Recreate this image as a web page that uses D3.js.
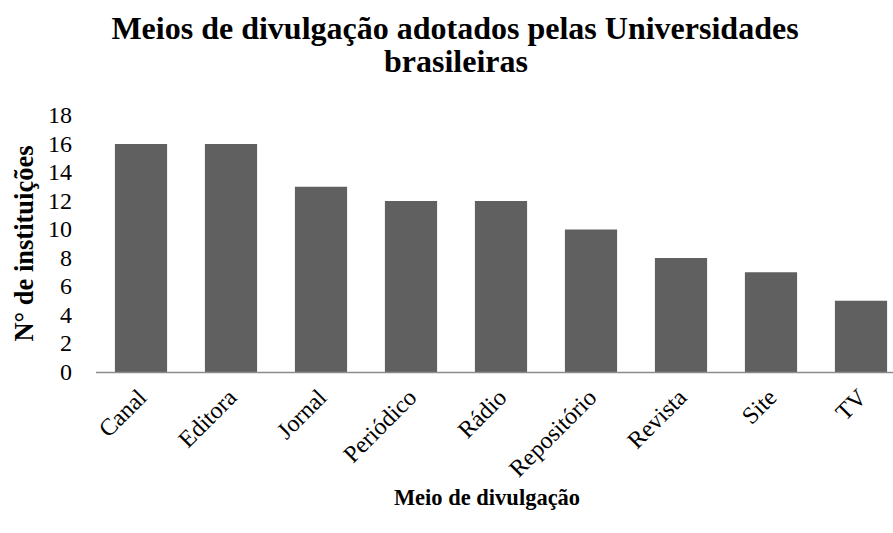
<!DOCTYPE html>
<html>
<head>
<meta charset="utf-8">
<script src="https://cdn.jsdelivr.net/npm/d3@7"></script>
<style>
  body { margin: 0; background: #fff; }
  text { font-family: "Liberation Serif", "Times New Roman", serif; fill: #000; }
</style>
</head>
<body>
<svg></svg>
<script>
const categories = ["Canal", "Editora", "Jornal", "Periódico", "Rádio", "Repositório", "Revista", "Site", "TV"];
const values = [16, 16, 13, 12, 12, 10, 8, 7, 5];
const yTicks = [0, 2, 4, 6, 8, 10, 12, 14, 16, 18];

const svgWidth = 893;
const svgHeight = 533;

const svg = d3.select("svg")
    .attr("width", svgWidth)
    .attr("height", svgHeight);

// Scales
const xScale = d3.scaleBand()
    .domain(categories)
    .range([96, 906])
    .paddingInner(0.42)
    .paddingOuter(0.21);

const yScale = d3.scaleLinear()
    .domain([0, 18])
    .range([372, 115.5]);

// Bars
svg.selectAll(".bar")
    .data(values)
    .enter()
    .append("rect")
    .attr("class", "bar")
    .attr("x", (d, i) => xScale(categories[i]))
    .attr("y", d => yScale(d))
    .attr("width", xScale.bandwidth())
    .attr("height", d => yScale(0) - yScale(d))
    .attr("fill", "#606060");

// x axis line
svg.append("line")
    .attr("x1", 96).attr("x2", 906)
    .attr("y1", yScale(0) + 0.5).attr("y2", yScale(0) + 0.5)
    .attr("stroke", "#8c8c8c")
    .attr("stroke-width", 1.5);

// y axis labels
const yAxis = svg.append("g")
    .attr("transform", "translate(80,0)")
    .call(d3.axisLeft(yScale).tickValues(yTicks).tickSize(0).tickPadding(8));
yAxis.select(".domain").remove();
yAxis.selectAll("text")
    .style("font-family", "'Liberation Serif', 'Times New Roman', serif")
    .style("font-size", "24px")
    .attr("fill", "#000")
    .attr("dy", "0.3em");

// x axis labels
const xAxis = svg.append("g")
    .attr("transform", `translate(0,${yScale(0)})`)
    .call(d3.axisBottom(xScale).tickSize(0).tickPadding(0));
xAxis.select(".domain").remove();
xAxis.selectAll("text")
    .style("font-family", "'Liberation Serif', 'Times New Roman', serif")
    .style("font-size", "24px")
    .attr("fill", "#000")
    .style("text-anchor", "end")
    .attr("dy", null)
    .attr("y", 0)
    .attr("transform", "translate(7,27) rotate(-45)");

// Title
svg.append("text")
    .attr("x", 455)
    .attr("y", 39)
    .style("text-anchor", "middle")
    .style("font-weight", "bold")
    .style("font-size", "32px")
    .text("Meios de divulgação adotados pelas Universidades");
svg.append("text")
    .attr("x", 456)
    .attr("y", 72)
    .style("text-anchor", "middle")
    .style("font-weight", "bold")
    .style("font-size", "32px")
    .text("brasileiras");

// y axis title
svg.append("text")
    .attr("transform", "rotate(-90)")
    .attr("x", -243.5)
    .attr("y", 33)
    .style("text-anchor", "middle")
    .style("font-weight", "bold")
    .style("font-size", "26.5px")
    .text("N° de instituições");

// x axis title
svg.append("text")
    .attr("x", 487)
    .attr("y", 505)
    .style("text-anchor", "middle")
    .style("font-weight", "bold")
    .style("font-size", "22.5px")
    .text("Meio de divulgação");
</script>
</body>
</html>
